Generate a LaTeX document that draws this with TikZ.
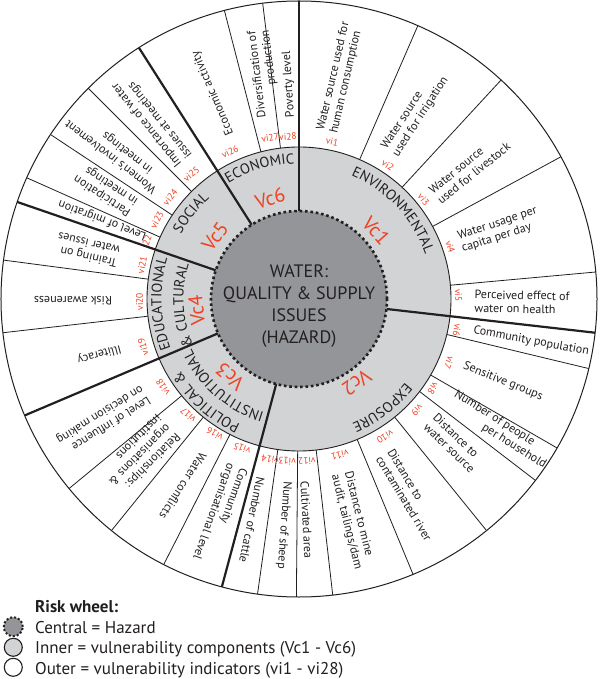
\documentclass[tikz,border=0pt]{standalone}
\usepackage{fontspec}
\setmainfont{PT Sans}
\definecolor{ink}{HTML}{231F20}
\definecolor{hazardgray}{HTML}{939598}
\definecolor{ringgray}{HTML}{D1D3D4}
\definecolor{vired}{HTML}{EF4123}
\font\catraw="PT Sans" at 14.5pt
\newcount\arcn
\newdimen\arcw
\newbox\arcbox
\tikzset{
 wheeltext/.style={font=\fontsize{12}{13.5}\selectfont, text=ink, inner sep=0pt, align=left},
 wheeltextc/.style={wheeltext, align=center},
 wheeltextr/.style={wheeltext, align=right},
 vilabel/.style={font=\fontsize{9.5}{10}\selectfont, text=vired, inner sep=0pt},
 vclabel/.style={font=\fontsize{20}{22}\selectfont, text=vired, inner sep=0pt},
 thindiv/.style={draw=ink, line width=0.8pt},
 thickdiv/.style={draw=ink, line width=2.2pt},
 catchar/.style={font=\catraw, text=ink, inner sep=0pt, anchor=base},
 hazarddots/.style={draw=ink, line width=2.6pt, dash pattern=on 2.6pt off 2.8pt},
 legendtext/.style={anchor=base west, font=\fontsize{17}{20}\selectfont, text=ink, inner sep=0pt},
}
% text set letter by letter along a clockwise arc: radius, centre angle, letters
\newcommand\arcline[3]{%
  \global\arcw=0pt
  \foreach \ch in {#3}{\setbox\arcbox=\hbox{\catraw\ch}\global\advance\arcw by \wd\arcbox\relax}%
  \pgfmathsetmacro\arcstart{#2 + 0.5*\arcw*57.29578/#1}%
  \xdef\arccur{\arcstart}%
  \foreach \ch in {#3}{%
    \setbox\arcbox=\hbox{\catraw\ch}%
    \pgfmathsetmacro\chw{\the\wd\arcbox}%
    \pgfmathsetmacro\chang{\arccur - 0.5*\chw*57.29578/#1}%
    \global\advance\arcn by 1
    \node[catchar, rotate=\chang-90] (ac\the\arcn) at (\chang:#1pt) {\ch};%
    \pgfmathsetmacro\nextang{\arccur - \chw*57.29578/#1}%
    \xdef\arccur{\nextang}%
  }%
}
\begin{document}
\begin{tikzpicture}[x=1pt,y=1pt]
\useasboundingbox (-299,-380) rectangle (301,299);
\fill[white] (-299,-380) rectangle (301,299);
\fill[white] (0,0) circle[radius=298pt];
% thin dividers of the outer ring
\foreach \bb in {66.5,47.3,28.5,5.2,-13.5,-30,-37.5,-51,-67.5,-83.5,-90.5,-98,-117,-129,-140.5,-173.5,172.5,156,146.5,135,104.5,97}
  \draw[thindiv] (\bb:152pt) -- (\bb:298pt);
% outer indicator texts
\node[wheeltext, rotate=77] (t1) at (79.5:225pt) {Water source used for\\human consumption};
\node[wheeltext, rotate=57] (t2) at (58:219pt) {Water source\\used for irrigation};
\node[wheeltext, rotate=39] (t3) at (37.5:215pt) {Water source\\used for livestock};
\node[wheeltext, rotate=18] (t4) at (19:212pt) {Water usage per\\capita per day};
\node[wheeltext, rotate=-1] (t5) at (-0.8:223pt) {Perceived effect of\\water on health};
\node[wheeltext, rotate=-10.4] (t6) at (-10.3:236pt) {Community population};
\node[wheeltext, rotate=-22] (t7) at (-22:220pt) {Sensitive groups};
\node[wheeltext, rotate=-32] (t8) at (-33:240pt) {Number of people\\\hspace*{41pt}per household};
\node[wheeltext, rotate=-44] (t9) at (-42.9:211.6pt) {Distance to\\water source};
\node[wheeltext, rotate=-59] (t10) at (-60.5:225pt) {Distance to\\contaminated river};
\node[wheeltext, rotate=-76] (t11) at (-76.3:228pt) {Distance to mine\\audit, tailings/dam};
\node[wheeltext, rotate=-87] (t12) at (-88:221pt) {Cultivated area};
\node[wheeltext, rotate=-94] (t13) at (-93.8:226.5pt) {Number of sheep};
\node[wheeltext, rotate=-101.5] (t14) at (-102:226pt) {Number of cattle};
\node[wheeltext, rotate=-110] (t15) at (249.7:229pt) {Community\\organisational level};
\node[wheeltext, rotate=237] (t16) at (238.2:220pt) {Water conflicts};
\node[wheeltext, rotate=225] (t17) at (224.5:223pt) {Relationships:\\organisations \&\\institutions};
\node[wheeltext, rotate=212] (t18) at (211.7:230pt) {Level of influence\\on decision making};
\node[wheeltext, rotate=195] (t19) at (195.4:207pt) {Illiteracy};
\node[wheeltext, rotate=180] (t20) at (180.3:226pt) {Risk awareness};
\node[wheeltext, rotate=167] (t21) at (167:217pt) {Training on\\water issues};
\node[wheeltext, rotate=159.5] (t22) at (158:212pt) {Level of migration};
\node[wheeltext, rotate=147] (t23) at (150.5:221.7pt) {Participation\\in meetings};
\node[wheeltext, rotate=142] (t24) at (141.2:236pt) {Women's involvement\\\hspace*{15pt}in meetings};
\node[wheeltext, rotate=129] (t25) at (129.5:231pt) {Importance of water\\issues at meetings};
\node[wheeltext, rotate=113] (t26) at (112.7:223pt) {Economic activity};
\node[wheeltextr, rotate=97] (t27) at (98.8:228pt) {Diversification of\\production};
\node[wheeltext, rotate=93.5] (t28) at (92.7:215pt) {Poverty level};
% indicator numbers
\node[vilabel, rotate=-11.9] (l1) at (78.1:160.5pt) {vi1};
\node[vilabel, rotate=-33.6] (l2) at (56.4:160.5pt) {vi2};
\node[vilabel, rotate=-51.4] (l3) at (38.6:159.5pt) {vi3};
\node[vilabel, rotate=-71] (l4) at (19:160pt) {vi4};
\node[vilabel, rotate=-88.6] (l5) at (1.4:159.5pt) {vi5};
\node[vilabel, rotate=-101.1] (l6) at (-11.1:161pt) {vi6};
\node[vilabel, rotate=-113] (l7) at (-23:163pt) {vi7};
\node[vilabel, rotate=-123.6] (l8) at (-33.6:161pt) {vi8};
\node[vilabel, rotate=-133.2] (l9) at (-43.2:162pt) {vi9};
\node[vilabel, rotate=-148] (l10) at (-58:162.5pt) {vi10};
\node[vilabel, rotate=-165.3] (l11) at (-75.3:161.5pt) {vi11};
\node[vilabel, rotate=-177.2] (l12) at (-87.2:162pt) {vi12};
\node[vilabel, rotate=-184.2] (l13) at (-94.2:162.5pt) {vi13};
\node[vilabel, rotate=-190.2] (l14) at (-100.2:163pt) {vi14};
\node[vilabel, rotate=159.1] (l15) at (249.1:160pt) {vi15};
\node[vilabel, rotate=148] (l16) at (238:159pt) {vi16};
\node[vilabel, rotate=136.3] (l17) at (226.3:160.5pt) {vi17};
\node[vilabel, rotate=122.9] (l18) at (212.9:162pt) {vi18};
\node[vilabel, rotate=107] (l19) at (197:163pt) {vi19};
\node[vilabel, rotate=91] (l20) at (181:159.5pt) {vi20};
\node[vilabel, rotate=77.8] (l21) at (167.8:160.5pt) {vi21};
\node[vilabel, rotate=68.8] (l22) at (158.8:163pt) {22};
\node[vilabel, rotate=60.9] (l23) at (150.9:162.5pt) {vi23};
\node[vilabel, rotate=51.7] (l24) at (141.7:164pt) {vi24};
\node[vilabel, rotate=40.7] (l25) at (130.7:165pt) {vi25};
\node[vilabel, rotate=25.1] (l26) at (115.1:162.5pt) {vi26};
\node[vilabel, rotate=10.1] (l27) at (100.1:164pt) {vi27};
\node[vilabel, rotate=3.9] (l28) at (93.9:162.5pt) {vi28};
% component ring
\filldraw[fill=ringgray, draw=ink, line width=0.9pt] (0,0) circle[radius=152pt];
\draw[ink, line width=1pt] (0,0) circle[radius=298pt];
\foreach \bb in {90,-6.5,-105,203,161,122.5}
  \draw[thickdiv] (\bb:88pt) -- (\bb:298pt);
% hazard core
\fill[hazardgray] (0,0) circle[radius=88pt];
\draw[hazarddots] (0,0) circle[radius=88pt];
\node[font=\fontsize{18}{22}\selectfont, text=ink, align=center, inner sep=0pt] (hazard) at (0,-7) {WATER:\\QUALITY \& SUPPLY\\ISSUES\\(HAZARD)};
% component names
\arcline{134}{43.3}{E,N,V,I,R,O,N,M,E,N,T,A,L}
\arcline{135}{-52.5}{E,X,P,O,S,U,R,E}
\arcline{138.5}{228}{P,O,L,I,T,I,C,A,L,\space,\&}
\arcline{118.5}{229}{I,N,S,T,I,T,U,T,I,O,N,A,L}
\arcline{137.5}{182}{E,D,U,C,A,T,I,O,N,A,L}
\arcline{115.5}{183}{\&,\space,C,U,L,T,U,R,A,L}
\arcline{134.5}{141.5}{S,O,C,I,A,L}
\arcline{135.5}{106.7}{E,C,O,N,O,M,I,C}
% component codes
\node[vclabel, rotate=-48.5] (vc1) at (41.5:103pt) {Vc1};
\node[vclabel, rotate=-145.6] (vc2) at (-55.6:102pt) {Vc2};
\node[vclabel, rotate=138.4] (vc3) at (228.4:104pt) {Vc3};
\node[vclabel, rotate=96.1] (vc4) at (186.1:103pt) {Vc4};
\node[vclabel, rotate=53.4] (vc5) at (143.4:104.6pt) {Vc5};
\node[vclabel, rotate=16] (vc6) at (106:104.8pt) {Vc6};
% legend
\node[legendtext, font=\fontsize{17}{20}\selectfont\bfseries] (lgtitle) at (-264,-313) {Risk wheel:};
\node[legendtext] (lgcentral) at (-264,-334) {Central = Hazard};
\node[legendtext] (lginner) at (-264,-354.5) {Inner = vulnerability components (Vc1 - Vc6)};
\node[legendtext] (lgouter) at (-264,-375) {Outer = vulnerability indicators (vi1 - vi28)};
\fill[hazardgray] (-285.7,-327.7) circle[radius=9.5pt];
\draw[ink, line width=2pt, dash pattern=on 2pt off 2pt] (-285.7,-327.7) circle[radius=9.5pt];
\filldraw[fill=ringgray, draw=ink, line width=1.1pt] (-285.7,-348.3) circle[radius=9pt];
\filldraw[fill=white, draw=ink, line width=1.1pt] (-285.7,-368.3) circle[radius=9pt];
\end{tikzpicture}
\end{document}
